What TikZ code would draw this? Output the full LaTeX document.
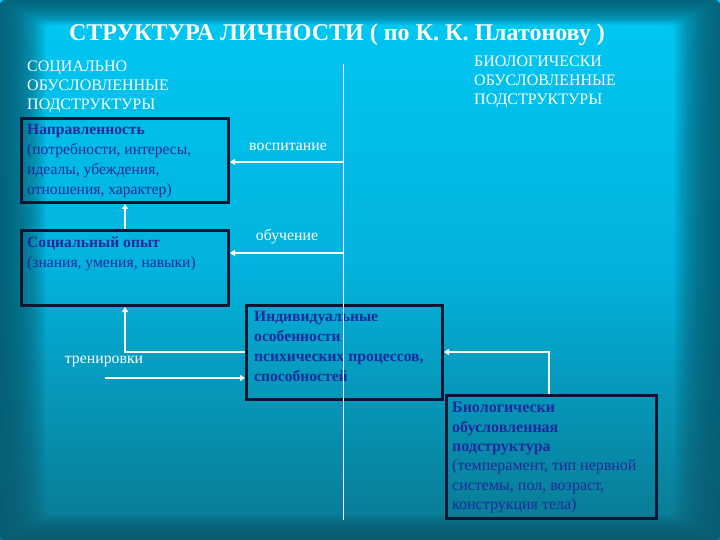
\documentclass[tikz,border=0pt]{standalone}
\usepackage{fontspec}
\setmainfont{Liberation Serif}
\usetikzlibrary{arrows.meta}
\definecolor{edgeteal}{HTML}{0A5C70}
\definecolor{topcyan}{HTML}{00C8F4}
\definecolor{midcyan}{HTML}{02B2DC}
\definecolor{botteal}{HTML}{0A7890}
\definecolor{boxline}{HTML}{0C1630}
\definecolor{txtblue}{HTML}{1C2A9E}
\tikzset{
  box/.style={draw=boxline, line width=3pt, minimum width=#1, rectangle, inner sep=0pt},
  boxtext/.style={anchor=north west, inner sep=0pt, text=txtblue, align=left, font=\fontsize{15.6}{20}\selectfont},
  hdr/.style={anchor=north west, inner sep=0pt, text=white, align=left, font=\fontsize{16}{19}\selectfont},
  lbl/.style={inner sep=0pt, text=white, font=\fontsize{15.8}{17}\selectfont},
  arr/.style={draw=white, line width=2pt, -{Triangle[length=5pt,width=6pt]}},
  vline/.style={draw=white, line width=1pt}
}
\begin{document}
\begin{tikzpicture}[x=1pt,y=-1pt]
\useasboundingbox (0,0) rectangle (720,540);
% background
\shade[top color=topcyan, bottom color=botteal, middle color=midcyan] (0,0) rectangle (720,540);
\foreach \d in {0,3,...,45}{
  \fill[edgeteal, fill opacity=0.13, even odd rule, rounded corners=6pt] (0,0) rectangle (720,540) (\d,{0.55*\d}) rectangle ({720-\d},{540-0.55*\d});
}
% title
\node[inner sep=0pt, text=white, font=\fontsize{24}{28}\selectfont\bfseries] (title) at (337,35) {СТРУКТУРА ЛИЧНОСТИ ( по К. К. Платонову )};
% headers
\node[hdr] (hl) at (27,61) {СОЦИАЛЬНО\\ОБУСЛОВЛЕННЫЕ\\ПОДСТРУКТУРЫ};
\node[hdr] (hr) at (474,56) {БИОЛОГИЧЕСКИ\\ОБУСЛОВЛЕННЫЕ\\ПОДСТРУКТУРЫ};
% vertical line
\coordinate (vtop) at (343,64);
\coordinate (vbot) at (343,520);
% boxes
\node[box=207pt, minimum height=84pt, anchor=north west] (b1) at (20,117) {};
\node[box=207pt, minimum height=75pt, anchor=north west] (b2) at (20,229) {};
\node[box=196pt, minimum height=94pt, anchor=north west] (b3) at (245,304) {};
\node[box=210pt, minimum height=123pt, anchor=north west] (b4) at (445,394) {};
\node[boxtext] (t1) at (27,124) {\textbf{Направленность}\\(потребности, интересы,\\идеалы, убеждения,\\отношения, характер)};
\node[boxtext] (t2) at (27,237) {\textbf{Социальный опыт}\\(знания, умения, навыки)};
\node[boxtext] (t3) at (254,311) {\textbf{Индивидуальные}\\\textbf{особенности}\\\textbf{психических процессов,}\\\textbf{способностей}};
\node[boxtext, font=\fontsize{16}{19.4}\selectfont] (t4) at (452,402) {\textbf{Биологически}\\\textbf{обусловленная}\\\textbf{подструктура}\\(темперамент, тип нервной\\системы, пол, возраст,\\конструкция тела)};
\draw[vline] (vtop) -- (vbot);
% labels
\node[lbl] (lv) at (288,147) {воспитание};
\node[lbl] (lo) at (287,237) {обучение};
\node[lbl] (lt) at (104,361) {тренировки};
% connectors
\coordinate (c1) at (343,162);
\coordinate (c2) at (343,253);
\draw[arr] (c1) -- (c1 -| b1.east);
\draw[arr] (c2) -- (c2 -| b2.east);
\draw[arr] (b2.north) -- (b1.south);
\coordinate (c3) at (245,352);
\draw[arr] (c3) -- (c3 -| b2.south) -- (b2.south);
\coordinate (c4) at (105,378);
\draw[arr] (c4) -- (c4 -| b3.west);
\coordinate (c5) at (549,352);
\draw[arr] (c5 |- b4.north) -- (c5) -- (c5 -| b3.east);
\end{tikzpicture}
\end{document}
